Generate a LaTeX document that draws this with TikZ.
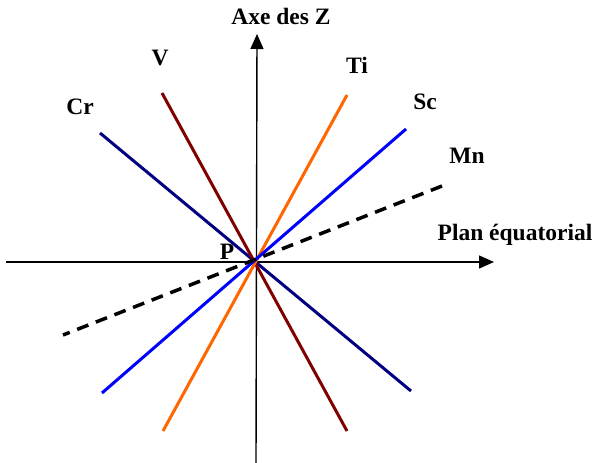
\documentclass[tikz,border=0pt]{standalone}
\usepackage{fontspec}
\setmainfont{Liberation Serif}
\usetikzlibrary{arrows.meta}
\definecolor{crcol}{RGB}{0,0,128}
\definecolor{vcol}{RGB}{128,0,0}
\definecolor{ticol}{RGB}{255,102,0}
\definecolor{sccol}{RGB}{0,0,255}
\begin{document}
\begin{tikzpicture}[x=1pt,y=-1pt,
  lbl/.style={font=\fontsize{23.5}{23.5}\selectfont\bfseries, inner sep=0pt, anchor=base},
  axis/.style={line width=1.4pt, -{Triangle[length=15pt,width=13pt]}},
  elem/.style={line width=3pt},
  mnline/.style={line width=3.5pt, dash pattern=on 12pt off 8pt}]
\useasboundingbox (0,0) rectangle (597,463);
% axes
\coordinate (hL) at (6,262);
\coordinate (hR) at (494,262);
\coordinate (vB) at (256,463);
\coordinate (vT) at (257,34);
\draw[axis] (hL) -- (hR);
\draw[axis] (vB) -- (vT);
% endpoints
\coordinate (crA) at (100,133);
\coordinate (crB) at (411,391);
\coordinate (vA) at (162,93);
\coordinate (vB2) at (347,431);
\coordinate (tiA) at (347,95);
\coordinate (tiB) at (163,431);
\coordinate (scA) at (406,129);
\coordinate (scB) at (102,393);
\coordinate (mnA) at (442,186);
\coordinate (mnB) at (63,335);
\draw[elem, crcol] (crA) -- (crB);
\draw[elem, vcol] (vA) -- (vB2);
\draw[elem, ticol] (tiA) -- (tiB);
\draw[elem, sccol] (scA) -- (scB);
\draw[mnline] (mnA) -- (mnB);
% labels
\node[lbl] (lz) at (281,24) {Axe des Z};
\node[lbl] (lv) at (160,65) {V};
\node[lbl] (lti) at (357,73) {Ti};
\node[lbl] (lcr) at (80,114) {Cr};
\node[lbl] (lsc) at (425,109) {Sc};
\node[lbl] (lmn) at (467,163) {Mn};
\node[lbl] (lplan) at (515,240) {Plan équatorial};
\node[lbl] (lp) at (227,259) {P};
\end{tikzpicture}
\end{document}
